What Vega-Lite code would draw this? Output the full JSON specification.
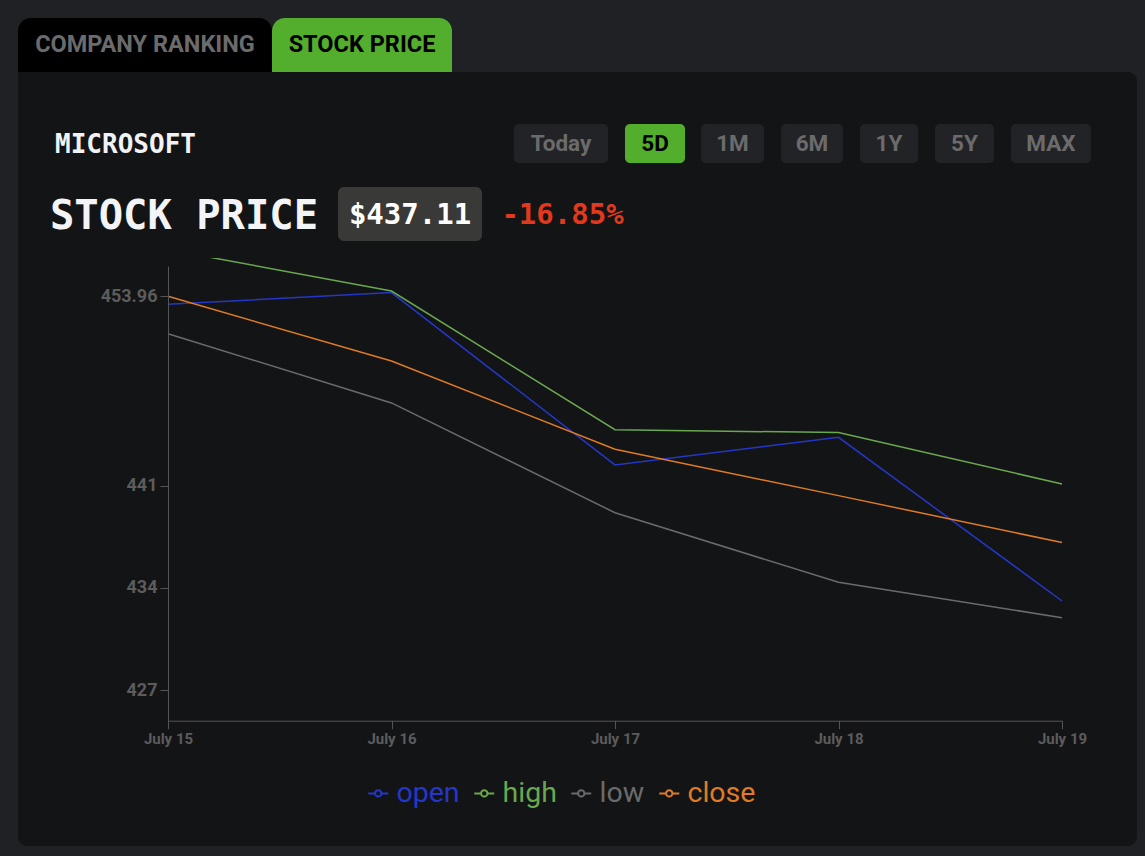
{
  "$schema": "https://vega.github.io/schema/vega-lite/v6.json",
  "background": "#202125",
  "padding": {"left": 18, "top": 18, "right": 8, "bottom": 10},
  "config": {"view": {"fill": null, "stroke": null}, "concat": {"spacing": 0}},
  "spacing": 0,
  "vconcat": [
    {
      "spacing": 0,
      "hconcat": [
        {"width": 254, "height": 54,
         "data": {"values": [{"label": "COMPANY RANKING"}]},
         "layer": [
           {"mark": {"type": "rect", "color": "#000000", "cornerRadiusTopLeft": 13, "cornerRadiusTopRight": 13}, "encoding": {}},
           {"mark": {"type": "text", "font": "Roboto", "fontWeight": "bold", "fontSize": 23.5, "color": "#6b6b6b", "baseline": "middle"}, "encoding": {"text": {"field": "label"}}}
         ]},
        {"width": 180, "height": 54,
         "data": {"values": [{"label": "STOCK PRICE"}]},
         "layer": [
           {"mark": {"type": "rect", "color": "#52ae2c", "cornerRadiusTopLeft": 13, "cornerRadiusTopRight": 13}, "encoding": {}},
           {"mark": {"type": "text", "font": "Roboto", "fontWeight": "bold", "fontSize": 23.5, "color": "#000000", "baseline": "middle"}, "encoding": {"text": {"field": "label"}}}
         ]}
      ]
    },
    {"width": 1119, "height": 52, "data": {"values": [{}]},
     "mark": {"type": "rect", "color": "#131416", "cornerRadiusTopRight": 9}, "encoding": {}},
    {
      "spacing": 0,
      "hconcat": [
        {"width": 215, "height": 39, "data": {"values": [{"label": "MICROSOFT"}]},
         "layer": [
           {"mark": {"type": "rect", "color": "#131416"}, "encoding": {}},
           {"mark": {"type": "text", "font": "DejaVu Sans Mono", "fontWeight": "bold", "fontSize": 26, "color": "#f1f2f4", "baseline": "middle", "dy": 1}, "encoding": {"text": {"field": "label"}}}
         ]},
        {"width": 281, "height": 39, "data": {"values": [{}]}, "mark": {"type": "rect", "color": "#131416"}, "encoding": {}},
        {"width": 94, "height": 39, "data": {"values": [{"label": "Today"}]},
         "layer": [
           {"mark": {"type": "rect", "color": "#131416"}, "encoding": {}},
           {"mark": {"type": "rect", "color": "#222327", "cornerRadius": 5}, "encoding": {}},
           {"mark": {"type": "text", "font": "Roboto", "fontWeight": "bold", "fontSize": 22.5, "color": "#6b6b6b", "baseline": "middle"}, "encoding": {"text": {"field": "label"}}}
         ]},
        {"width": 17, "height": 39, "data": {"values": [{}]}, "mark": {"type": "rect", "color": "#131416"}, "encoding": {}},
        {"width": 60, "height": 39, "data": {"values": [{"label": "5D"}]},
         "layer": [
           {"mark": {"type": "rect", "color": "#131416"}, "encoding": {}},
           {"mark": {"type": "rect", "color": "#52ae2c", "cornerRadius": 5}, "encoding": {}},
           {"mark": {"type": "text", "font": "Roboto", "fontWeight": "bold", "fontSize": 22.5, "color": "#000000", "baseline": "middle"}, "encoding": {"text": {"field": "label"}}}
         ]},
        {"width": 16, "height": 39, "data": {"values": [{}]}, "mark": {"type": "rect", "color": "#131416"}, "encoding": {}},
        {"width": 63, "height": 39, "data": {"values": [{"label": "1M"}]},
         "layer": [
           {"mark": {"type": "rect", "color": "#131416"}, "encoding": {}},
           {"mark": {"type": "rect", "color": "#222327", "cornerRadius": 5}, "encoding": {}},
           {"mark": {"type": "text", "font": "Roboto", "fontWeight": "bold", "fontSize": 22.5, "color": "#6b6b6b", "baseline": "middle"}, "encoding": {"text": {"field": "label"}}}
         ]},
        {"width": 17, "height": 39, "data": {"values": [{}]}, "mark": {"type": "rect", "color": "#131416"}, "encoding": {}},
        {"width": 62, "height": 39, "data": {"values": [{"label": "6M"}]},
         "layer": [
           {"mark": {"type": "rect", "color": "#131416"}, "encoding": {}},
           {"mark": {"type": "rect", "color": "#222327", "cornerRadius": 5}, "encoding": {}},
           {"mark": {"type": "text", "font": "Roboto", "fontWeight": "bold", "fontSize": 22.5, "color": "#6b6b6b", "baseline": "middle"}, "encoding": {"text": {"field": "label"}}}
         ]},
        {"width": 17, "height": 39, "data": {"values": [{}]}, "mark": {"type": "rect", "color": "#131416"}, "encoding": {}},
        {"width": 58, "height": 39, "data": {"values": [{"label": "1Y"}]},
         "layer": [
           {"mark": {"type": "rect", "color": "#131416"}, "encoding": {}},
           {"mark": {"type": "rect", "color": "#222327", "cornerRadius": 5}, "encoding": {}},
           {"mark": {"type": "text", "font": "Roboto", "fontWeight": "bold", "fontSize": 22.5, "color": "#6b6b6b", "baseline": "middle"}, "encoding": {"text": {"field": "label"}}}
         ]},
        {"width": 17, "height": 39, "data": {"values": [{}]}, "mark": {"type": "rect", "color": "#131416"}, "encoding": {}},
        {"width": 59, "height": 39, "data": {"values": [{"label": "5Y"}]},
         "layer": [
           {"mark": {"type": "rect", "color": "#131416"}, "encoding": {}},
           {"mark": {"type": "rect", "color": "#222327", "cornerRadius": 5}, "encoding": {}},
           {"mark": {"type": "text", "font": "Roboto", "fontWeight": "bold", "fontSize": 22.5, "color": "#6b6b6b", "baseline": "middle"}, "encoding": {"text": {"field": "label"}}}
         ]},
        {"width": 17, "height": 39, "data": {"values": [{}]}, "mark": {"type": "rect", "color": "#131416"}, "encoding": {}},
        {"width": 80, "height": 39, "data": {"values": [{"label": "MAX"}]},
         "layer": [
           {"mark": {"type": "rect", "color": "#131416"}, "encoding": {}},
           {"mark": {"type": "rect", "color": "#222327", "cornerRadius": 5}, "encoding": {}},
           {"mark": {"type": "text", "font": "Roboto", "fontWeight": "bold", "fontSize": 22.5, "color": "#6b6b6b", "baseline": "middle"}, "encoding": {"text": {"field": "label"}}}
         ]},
        {"width": 46, "height": 39, "data": {"values": [{}]}, "mark": {"type": "rect", "color": "#131416"}, "encoding": {}}
      ]
    },
    {"width": 1119, "height": 24, "data": {"values": [{}]}, "mark": {"type": "rect", "color": "#131416"}, "encoding": {}},
    {
      "spacing": 0,
      "hconcat": [
        {"width": 12, "height": 54, "data": {"values": [{}]}, "mark": {"type": "rect", "color": "#131416"}, "encoding": {}},
        {"width": 308, "height": 54, "data": {"values": [{"label": "STOCK PRICE"}]},
         "layer": [
           {"mark": {"type": "rect", "color": "#131416"}, "encoding": {}},
           {"mark": {"type": "text", "font": "DejaVu Sans Mono", "fontWeight": "bold", "fontSize": 40.5, "color": "#f3f4f6", "baseline": "middle", "dy": 3}, "encoding": {"text": {"field": "label"}}}
         ]},
        {"width": 144, "height": 54, "data": {"values": [{"label": "$437.11"}]},
         "layer": [
           {"mark": {"type": "rect", "color": "#131416"}, "encoding": {}},
           {"mark": {"type": "rect", "color": "#393937", "cornerRadius": 6}, "encoding": {}},
           {"mark": {"type": "text", "font": "DejaVu Sans Mono", "fontWeight": "bold", "fontSize": 29, "color": "#ffffff", "baseline": "middle", "dy": 1}, "encoding": {"text": {"field": "label"}}}
         ]},
        {"width": 161, "height": 54, "data": {"values": [{"label": "-16.85%"}]},
         "layer": [
           {"mark": {"type": "rect", "color": "#131416"}, "encoding": {}},
           {"mark": {"type": "text", "font": "DejaVu Sans Mono", "fontWeight": "bold", "fontSize": 29, "color": "#e0391d", "baseline": "middle", "dy": 1}, "encoding": {"text": {"field": "label"}}}
         ]},
        {"width": 494, "height": 54, "data": {"values": [{}]}, "mark": {"type": "rect", "color": "#131416"}, "encoding": {}}
      ]
    },
    {"width": 1119, "height": 17, "data": {"values": [{}]}, "mark": {"type": "rect", "color": "#131416"}, "encoding": {}},
    {
      "width": 1119, "height": 588,
      "layer": [
        {"data": {"values": [{}]},
         "mark": {"type": "rect", "color": "#131416", "cornerRadiusBottomLeft": 9, "cornerRadiusBottomRight": 9}, "encoding": {}},
        {"data": {"values": [
          {"day": "July 15", "series": "open", "price": 453.41},
          {"day": "July 16", "series": "open", "price": 454.21},
          {"day": "July 17", "series": "open", "price": 442.42},
          {"day": "July 18", "series": "open", "price": 444.31},
          {"day": "July 19", "series": "open", "price": 433.11},
          {"day": "July 15", "series": "high", "price": 457.16},
          {"day": "July 16", "series": "high", "price": 454.32},
          {"day": "July 17", "series": "high", "price": 444.83},
          {"day": "July 18", "series": "high", "price": 444.63},
          {"day": "July 19", "series": "high", "price": 441.12},
          {"day": "July 15", "series": "low", "price": 451.40},
          {"day": "July 16", "series": "low", "price": 446.66},
          {"day": "July 17", "series": "low", "price": 439.15},
          {"day": "July 18", "series": "low", "price": 434.39},
          {"day": "July 19", "series": "low", "price": 431.97},
          {"day": "July 15", "series": "close", "price": 453.96},
          {"day": "July 16", "series": "close", "price": 449.53},
          {"day": "July 17", "series": "close", "price": 443.49},
          {"day": "July 18", "series": "close", "price": 440.32},
          {"day": "July 19", "series": "close", "price": 437.11}
        ]},
         "mark": {"type": "line", "strokeWidth": 1.5, "clip": true},
         "encoding": {
           "x": {"field": "day", "type": "ordinal",
                 "scale": {"type": "point", "range": [150, 1044], "padding": 0},
                 "axis": {"title": null, "zindex": 1, "offset": -125.3, "labelAngle": 0, "tickSize": 8, "domainColor": "#555555", "tickColor": "#555555", "labelColor": "#5c5c5c", "labelFont": "Roboto", "labelFontWeight": "bold", "labelFontSize": 15, "labelPadding": 3, "grid": false}},
           "y": {"field": "price", "type": "quantitative",
                 "scale": {"domain": [424.92, 456.03], "range": [462.7, 8], "zero": false, "nice": false},
                 "axis": {"title": null, "zindex": 1, "offset": -150, "values": [427, 434, 441, 453.96], "labelExpr": "'' + datum.value", "tickSize": 8, "domainColor": "#555555", "tickColor": "#555555", "labelColor": "#5c5c5c", "labelFont": "Roboto", "labelFontWeight": "bold", "labelFontSize": 18, "labelPadding": 3, "grid": false}},
           "color": {"field": "series", "type": "nominal",
                     "scale": {"domain": ["open", "high", "low", "close"], "range": ["#2437c8", "#6aa84f", "#6b6b6b", "#e07b24"]},
                     "legend": {"orient": "none", "legendX": 346, "legendY": 761, "direction": "horizontal", "title": null,
                                "symbolType": "M-1,0L-0.32,0M0.32,0L1,0M-0.32,0A0.32,0.32 0 1 1 0.32,0A0.32,0.32 0 1 1 -0.32,0",
                                "symbolSize": 400, "symbolStrokeWidth": 2, "symbolFillColor": "#131416",
                                "labelFont": "Roboto", "labelFontSize": 28.5, "labelOffset": 4, "columnPadding": 10, "padding": 0,
                                "encode": {"labels": {"update": {"fill": {"scale": "color", "field": "value"}}}}}}
         }}
      ]
    }
  ]
}
